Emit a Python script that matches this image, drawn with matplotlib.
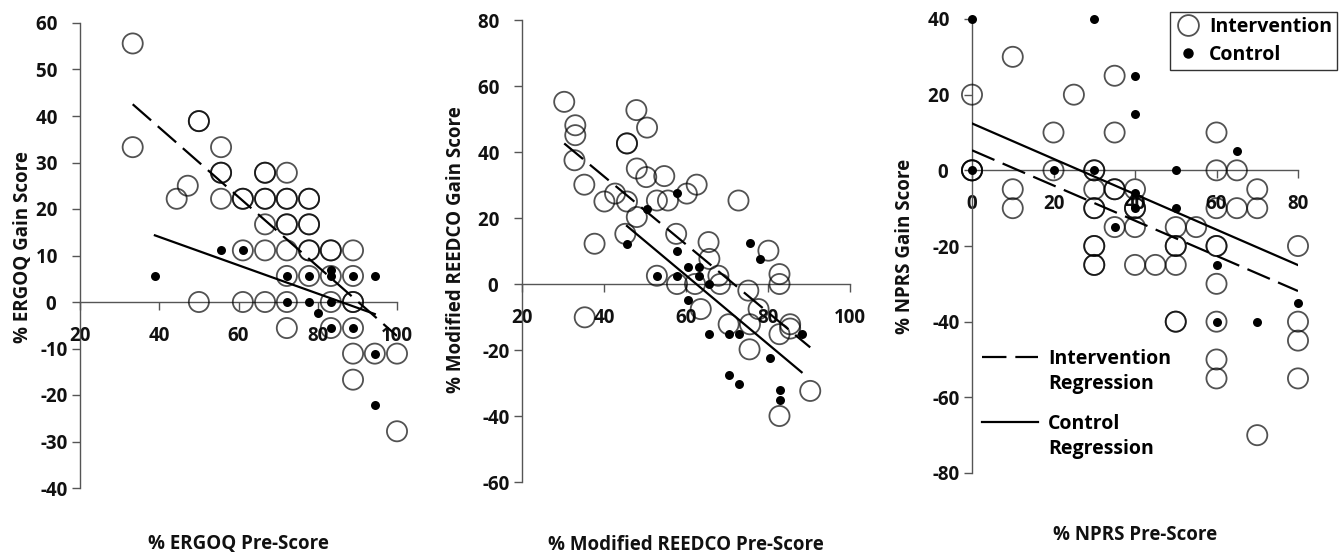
'''
gain score vs pre-score scatter, three panels
'''
import numpy as np
import matplotlib
matplotlib.use('Agg')
import matplotlib.pyplot as plt
from matplotlib.lines import Line2D

plt.rcParams['font.family'] = ['Open Sans', 'DejaVu Sans']
plt.rcParams['font.weight'] = 'bold'

# ERGOQ panel
ergoq_int_x = [33.3, 33.3, 50, 50, 55.6, 55.6, 55.6, 55.6, 47.2, 44.4, 61.1, 61.1,
               66.7, 66.7, 72.2, 66.7, 66.7, 72.2, 72.2, 77.8, 77.8, 66.7, 72.2, 72.2,
               77.8, 77.8, 61.1, 66.7, 72.2, 77.8, 77.8, 83.3, 83.3, 88.9, 72.2, 77.8,
               83.3, 88.9, 50, 61.1, 66.7, 72.2, 83.3, 88.9, 88.9, 72.2, 83.3, 88.9,
               88.9, 94.4, 100, 88.9, 100]
ergoq_int_y = [55.6, 33.3, 38.9, 38.9, 33.3, 27.8, 27.8, 22.2, 25, 22.2, 22.2, 22.2,
               27.8, 27.8, 27.8, 22.2, 22.2, 22.2, 22.2, 22.2, 22.2, 16.7, 16.7, 16.7,
               16.7, 16.7, 11.1, 11.1, 11.1, 11.1, 11.1, 11.1, 11.1, 11.1, 5.6, 5.6,
               5.6, 5.6, 0, 0, 0, 0, 0, 0, 0, -5.6, -5.6, -5.6,
               -11.1, -11.1, -11.1, -16.7, -27.8]
ergoq_ctl_x = [38.9, 55.6, 61.1, 72.2, 77.8, 83.3, 83.3, 88.9, 94.4, 72.2, 77.8, 83.3,
               80, 83.3, 88.9, 94.4, 94.4]
ergoq_ctl_y = [5.6, 11.1, 11.1, 5.6, 5.6, 6.9, 5.6, 5.6, 5.6, 0, 0, 0,
               -2.4, -5.6, -5.6, -11.1, -22.2]
ergoq_int_fit = [67.4, -0.747]
ergoq_ctl_fit = [26.2, -0.305]

# Modified REEDCO panel
reedco_int_x = [30.3, 33.0, 33.0, 32.8, 35.2, 37.7, 35.3, 40.1, 42.7, 45.6, 45.6, 45.6,
                45.2, 47.9, 50.5, 48.0, 50.3, 48.0, 52.9, 55.6, 54.7, 52.9, 57.6, 57.8,
                60.2, 62.6, 62.2, 63.6, 65.5, 65.7, 67.9, 68.3, 70.4, 72.8, 75.2, 75.6,
                75.5, 77.7, 80.1, 82.8, 82.8, 82.8, 85.4, 85.4, 82.8, 90.3]
reedco_int_y = [55.2, 48.1, 45.1, 37.5, 30.1, 12.2, -10.1, 25.0, 27.4, 25.0, 42.6, 42.6,
                15.2, 52.7, 47.4, 35.0, 32.4, 20.3, 25.3, 25.3, 32.7, 2.5, 15.2, 0,
                27.4, 30.1, 0, -7.6, 12.7, 7.6, 2.5, 0, -12.2, 25.3, -2.0, -12.2,
                -19.8, -7.6, 10.1, 3.0, 0, -15.2, -12.2, -13.5, -40, -32.4]
reedco_ctl_x = [45.6, 50.5, 52.9, 57.9, 57.9, 57.9, 60.4, 60.4, 63.1, 63.1, 65.5, 65.5,
                70.4, 73.0, 70.4, 73.0, 75.5, 78.1, 80.5, 83.0, 83.0, 88.2]
reedco_ctl_y = [12.2, 22.8, 2.5, 27.6, 10.1, 2.5, 5.1, -4.9, 5.1, 2.5, 0, -15,
                -15, -15, -27.6, -30.4, 12.4, 7.6, -22.5, -32.2, -35, -15]
reedco_int_fit = [73.8, -1.03]
reedco_ctl_fit = [65.0, -1.04]

# NPRS panel
nprs_int_x = [0, 0, 0, 0, 10, 10, 10, 20, 20, 25, 30, 30, 30, 30, 30, 30, 30, 30, 30,
              35, 35, 35, 35, 35, 40, 40, 40, 40, 40, 45, 50, 50, 50, 50, 50, 50, 55,
              60, 60, 60, 60, 60, 60, 60, 60, 60, 65, 65, 70, 70, 70, 80, 80, 80, 80]
nprs_int_y = [20, 0, 0, 0, 30, -5, -10, 10, 0, 20, 0, 0, -5, -10, -10, -20, -20, -25, -25,
              25, 10, -5, -5, -15, -5, -10, -10, -15, -25, -25, -15, -20, -20, -25, -40, -40, -15,
              10, 0, -10, -20, -20, -30, -40, -50, -55, 0, -10, -5, -10, -70, -20, -40, -45, -55]
nprs_ctl_x = [0, 0, 20, 30, 30, 35, 40, 40, 40, 40, 50, 50, 60, 60, 65, 70, 80]
nprs_ctl_y = [40, 0, 0, 40, 0, -15, 25, 15, -6, -10, 0, -10, -25, -40, 5, -40, -35]
nprs_int_fit = [5.3, -0.465]
nprs_ctl_fit = [12.4, -0.468]

panels = [
    dict(ix=ergoq_int_x, iy=ergoq_int_y, cx=ergoq_ctl_x, cy=ergoq_ctl_y,
         ifit=ergoq_int_fit, cfit=ergoq_ctl_fit,
         xlim=(20, 100), ylim=(-40, 60), xstep=20, ystep=10,
         xlabel='% ERGOQ Pre-Score', ylabel='% ERGOQ Gain Score',
         rect=[80, 23, 397, 488], xlab=-0.098, ylab=(-0.148, 0.518)),
    dict(ix=reedco_int_x, iy=reedco_int_y, cx=reedco_ctl_x, cy=reedco_ctl_y,
         ifit=reedco_int_fit, cfit=reedco_ctl_fit,
         xlim=(20, 100), ylim=(-60, 80), xstep=20, ystep=20,
         xlabel='% Modified REEDCO Pre-Score', ylabel='% Modified REEDCO Gain Score',
         rect=[522, 20, 850, 482], xlab=-0.115, ylab=(-0.172, 0.502)),
    dict(ix=nprs_int_x, iy=nprs_int_y, cx=nprs_ctl_x, cy=nprs_ctl_y,
         ifit=nprs_int_fit, cfit=nprs_ctl_fit,
         xlim=(0, 80), ylim=(-80, 40), xstep=20, ystep=20,
         xlabel='% NPRS Pre-Score', ylabel='% NPRS Gain Score',
         rect=[972, 19, 1298, 473], xlab=-0.115, ylab=(-0.175, 0.498)),
]

W, H = 1339, 559
DASH = (0, (11, 4))
OPEN_EDGE = (0, 0, 0, 0.68)
FS = 13.5


def main():
    ''' the main module '''

    fig = plt.figure(figsize=(W / 100, H / 100), dpi=100)
    axes = []
    for p in panels:
        axes.append(draw_panel(fig, p))

    add_legends(fig, axes[2])

    fig.savefig('out.png', dpi=100)
    return


def ylabel_text(v):
    ''' excel-like labels: positive numbers keep a trailing digit space '''

    if v < 0:
        return '-%d' % abs(v)
    return '%d\u2007' % v


def draw_panel(fig, p):
    ''' one scatter panel with regression lines '''

    x0, y0, x1, y1 = p['rect']
    ax = fig.add_axes([x0 / W, (H - y1) / H, (x1 - x0) / W, (y1 - y0) / H])

    ax.scatter(p['ix'], p['iy'], s=210, facecolors='none', edgecolors=[OPEN_EDGE],
               linewidths=1.3, clip_on=False, zorder=3)
    ax.scatter(p['cx'], p['cy'], s=42, color='black', linewidths=0,
               clip_on=False, zorder=4)

    # regression lines over each group's range
    xs = np.array([min(p['ix']), max(p['ix'])])
    ax.plot(xs, p['ifit'][0] + p['ifit'][1] * xs, color='black', lw=1.6,
            linestyle=DASH, zorder=5)
    xs = np.array([min(p['cx']), max(p['cx'])])
    ax.plot(xs, p['cfit'][0] + p['cfit'][1] * xs, color='black', lw=1.6, zorder=5)

    ax.set_xlim(p['xlim'])
    ax.set_ylim(p['ylim'])
    ax.set_xticks(np.arange(p['xlim'][0], p['xlim'][1] + 1, p['xstep']))
    yt = np.arange(p['ylim'][0], p['ylim'][1] + 1, p['ystep'])
    ax.set_yticks(yt)
    ax.set_yticklabels([ylabel_text(v) for v in yt])

    for s in ['top', 'right']:
        ax.spines[s].set_visible(False)
    ax.spines['bottom'].set_position(('data', 0))
    for s in ['bottom', 'left']:
        ax.spines[s].set_color('#555555')
        ax.spines[s].set_linewidth(1.0)

    ax.tick_params(axis='both', colors='#555555', labelcolor='#111111',
                   labelsize=FS, length=6, width=1.0, direction='out')
    ax.tick_params(axis='x', pad=11)
    ax.tick_params(axis='y', pad=3)
    ax.patch.set_visible(False)

    ax.set_xlabel(p['xlabel'], fontsize=FS, fontweight='bold', color='#111111')
    ax.set_ylabel(p['ylabel'], fontsize=FS, fontweight='bold', color='#111111')
    ax.xaxis.set_label_coords(0.5, p['xlab'])
    ax.yaxis.set_label_coords(*p['ylab'])
    return ax


def add_legends(fig, ax):
    ''' group legend box and regression line key '''

    h1 = [Line2D([], [], marker='o', ms=15, mfc='none', mec=OPEN_EDGE, mew=1.3, ls='none'),
          Line2D([], [], marker='o', ms=6.5, color='black', ls='none')]
    leg = ax.legend(h1, ['Intervention', 'Control'], loc='upper left',
                    bbox_to_anchor=(1170 / W, 1 - 12 / H), bbox_transform=fig.transFigure,
                    fancybox=False, edgecolor='#333333', framealpha=1,
                    fontsize=14, handlelength=1.4, handletextpad=0.35,
                    borderpad=0.25, labelspacing=0.4, borderaxespad=0)
    leg.get_frame().set_linewidth(1.0)
    ax.add_artist(leg)

    # regression key: two entries per line style, second row carries no handle
    keys = [(Line2D([], [], color='black', lw=1.6, ls=DASH), 'Intervention', 349),
            (Line2D([], [], color='black', lw=1.6), 'Control', 414)]
    blank = Line2D([], [], ls='none')
    for i, (h, lab, top) in enumerate(keys):
        lg = ax.legend([h, blank], [lab, 'Regression'], loc='upper left',
                       bbox_to_anchor=(982 / W, 1 - top / H), bbox_transform=fig.transFigure,
                       frameon=False, fontsize=14, handlelength=2.9, handletextpad=0.5,
                       labelspacing=0.25, borderaxespad=0, borderpad=0)
        if i == 0:
            ax.add_artist(lg)
    return


if __name__ == '__main__':
    main()
